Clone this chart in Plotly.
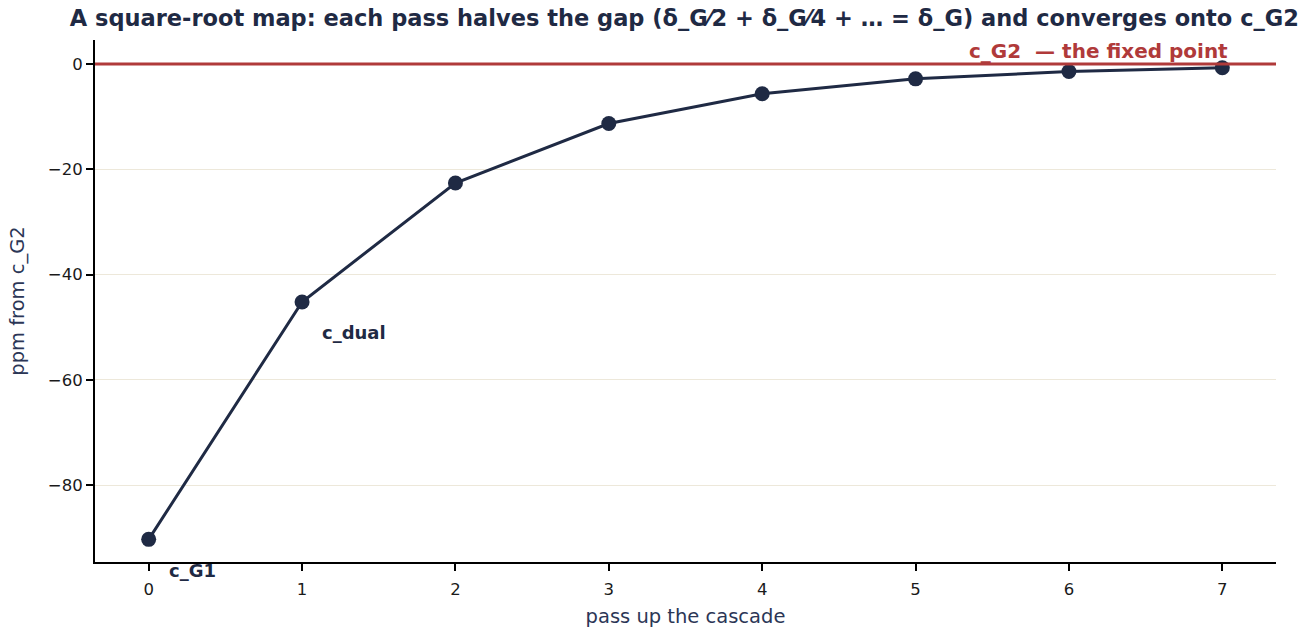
import plotly.graph_objects as go

passes = [0, 1, 2, 3, 4, 5, 6, 7]
ppm = [-90.3, -45.2, -22.6, -11.3, -5.65, -2.82, -1.41, -0.71]
point_labels = {0: "c_G1", 1: "c_dual"}
fixed_label = "c_G2  — the fixed point"
title = "A square-root map: each pass halves the gap (δ_G⁄2 + δ_G⁄4 + … = δ_G) and converges onto c_G2"

navy = "#1f2a44"
red = "#b03a3a"
font = "DejaVu Sans"

fig = go.Figure()
fig.add_shape(type="line", xref="paper", x0=0, x1=1, yref="y", y0=0, y1=0,
              line=dict(color=red, width=3), layer="above")
fig.add_trace(go.Scatter(
    x=passes, y=ppm, mode="lines+markers",
    line=dict(color=navy, width=3),
    marker=dict(color=navy, size=15),
    showlegend=False, hoverinfo="x+y",
))
for i, lab in point_labels.items():
    fig.add_annotation(x=passes[i], y=ppm[i], text=f"<b>{lab}</b>", showarrow=False,
                       xanchor="left", yanchor="middle", xshift=18, yshift=-31,
                       font=dict(family=font, size=18, color=navy))
fig.add_annotation(x=passes[-1], y=0, text=f"<b>{fixed_label}</b>", showarrow=False,
                   xanchor="right", yanchor="bottom", xshift=8, yshift=-1,
                   font=dict(family=font, size=20, color=red))

fig.update_layout(
    width=1316, height=631,
    paper_bgcolor="white", plot_bgcolor="white",
    margin=dict(l=95, r=40, t=40, b=69),
    font=dict(family=font, size=16.5, color="#1a1a1a"),
    title=dict(text=f"<b>{title}</b>", x=0.52, xanchor="center", y=0.972, yanchor="middle",
               font=dict(family=font, size=22.5, color=navy)),
)
fig.update_xaxes(range=[-0.35, 7.35], tickvals=passes, showgrid=False, zeroline=False,
                 showline=True, linecolor="black", linewidth=2, ticks="outside", ticklen=7,
                 tickwidth=1.5, tickcolor="black", ticklabelstandoff=4, automargin=False,
                 title=dict(text="pass up the cascade", font=dict(size=19.5, color="#2b3656"), standoff=12))
fig.update_yaxes(range=[-94.6, 4.56], tickvals=[0, -20, -40, -60, -80], showgrid=True,
                 gridcolor="#ede8da", gridwidth=1, zeroline=False, automargin=False,
                 showline=True, linecolor="black", linewidth=2, ticks="outside", ticklen=7,
                 tickwidth=1.5, tickcolor="black",
                 title=dict(text="ppm from c_G2", font=dict(size=19.5, color="#2b3656"), standoff=18))

fig.write_html("out.html", config={"displayModeBar": False},
               post_script="document.body.style.margin='0';")
